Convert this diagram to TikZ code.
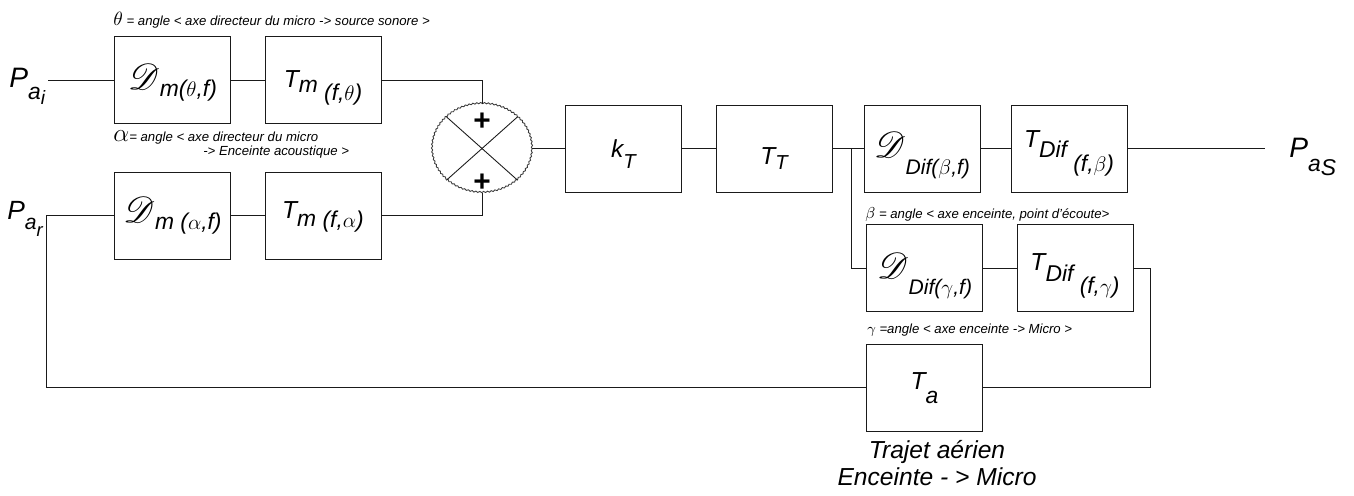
\documentclass[tikz,border=0pt]{standalone}
\usepackage{amsmath}
\usepackage{mathrsfs}
\usepackage{fontspec}
\setmainfont{Liberation Sans}
\usetikzlibrary{positioning,shapes.geometric,decorations.pathmorphing}
\definecolor{DiagInk}{HTML}{1A1A1A}
\newcommand{\dn}[2][4pt]{\raisebox{-#1}{\fontsize{13}{13}\selectfont #2}}
\newcommand{\Dscr}{{\fontsize{20}{20}\selectfont$\mathscr{D}$}}

\begin{document}
\begin{tikzpicture}[x=0.02cm, y=-0.02cm,
  blockbox/.style={draw=DiagInk, line width=0.55pt, minimum width=2.32cm,
               minimum height=1.74cm, inner sep=0pt, align=center,
               font=\itshape\fontsize{14}{16}\selectfont},
  txtdrop/.style={text height=#1, text depth=0pt},
  sumnode/.style={ellipse, draw=DiagInk!85, line width=0.5pt,
               minimum width=2cm, minimum height=1.78cm, inner sep=0pt,
               decorate, decoration={snake, amplitude=0.35pt, segment length=2.2pt}},
  wire/.style={draw=DiagInk, line width=0.55pt},
  sig/.style={font=\itshape\fontsize{16}{16}\selectfont, inner sep=0pt, anchor=base west},
  anglelabel/.style={font=\itshape\fontsize{7.5}{7.5}\selectfont,
               anchor=base west, inner sep=0pt, align=left}
]
\useasboundingbox (0,0) rectangle (1354,495);

% chaine micro
\node[blockbox, txtdrop=11pt] (dmt) at (172.5,80) {\Dscr\dn[4pt]{m($\theta$,f)}};
\node[blockbox, txtdrop=8pt] (tmt) at (323,80) {T\dn[3pt]{m\dn[4.5pt]{ (f,$\theta$)}}};
\node[blockbox, txtdrop=7.5pt] (dma) at (172.5,215.5) {\Dscr\dn[4pt]{m ($\alpha$,f)}};
\node[blockbox, txtdrop=3pt] (tma) at (323,215.5) {T\dn[5pt]{m\dn[0.5pt]{ (f,$\alpha$)}}};
\node[sumnode] (sum) at (482,148.5) {};
\node[font=\bfseries\fontsize{17}{17}\selectfont, inner sep=0pt] (plustop) at (482,122) {+};
\node[font=\bfseries\fontsize{17}{17}\selectfont, inner sep=0pt] (plusbot) at (482,183) {+};
\node[blockbox, txtdrop=10.8pt] (kt) at (623.5,148.5) {k\dn[6pt]{\fontsize{11.5}{11.5}\selectfont T}};
\node[blockbox, txtdrop=18.7pt] (tt) at (774,148.5) {T\dn[2.5pt]{\fontsize{11.5}{11.5}\selectfont T}};

% chaine enceinte
\node[blockbox, txtdrop=10.8pt] (ddb) at (922,148.5) {\Dscr\dn[9.6pt]{\fontsize{12}{12}\selectfont Dif($\beta$,f)}};
\node[blockbox, text height=0pt, text depth=1.7pt] (tdb) at (1069,148.5) {T\dn[5.7pt]{Dif\dn[8pt]{ (f,$\beta$)}}};
\node[blockbox, txtdrop=11.4pt] (ddg) at (924.5,268) {\Dscr\dn[9.6pt]{\fontsize{12}{12}\selectfont Dif($\gamma$,f)}};
\node[blockbox, txtdrop=2.3pt] (tdg) at (1075,268) {T\dn[6.5pt]{Dif\dn[7pt]{ (f,$\gamma$)}}};
\node[blockbox, txtdrop=2.8pt] (ta) at (924.5,387.5) {T\dn[7.5pt]{a}};

% signaux
\node[sig] (pai) at (9,87) {P\dn[7.2pt]{a\dn[3pt]{\fontsize{11}{11}\selectfont i}}};
\node[sig, font=\itshape\fontsize{15}{15}\selectfont] (par) at (7,219) {P\dn[6.2pt]{\fontsize{12}{12}\selectfont a\dn[3.5pt]{\fontsize{10.5}{10.5}\selectfont r}}};
\node[sig] (pas) at (1289,157) {P\dn[8.5pt]{a\dn[2pt]{S}}};
\node[sig, anchor=center, font=\itshape\fontsize{14}{15.5}\selectfont, align=center] (trajet) at (937,463) {Trajet aérien\\Enceinte - > Micro};

% angles
\node[anglelabel] (thetalbl) at (113,25) {{\fontsize{11}{11}\selectfont$\theta$} = angle < axe directeur du micro -> source sonore >};
\node[anglelabel] (alphalbl) at (113,155) {{\fontsize{14}{7.5}\selectfont$\alpha$}= angle < axe directeur du micro\\\hspace*{1.8cm}-> Enceinte acoustique >};
\node[anglelabel] (betalbl) at (865,218) {{\fontsize{9}{9}\selectfont$\beta$} = angle < axe enceinte, point d'écoute>};
\node[anglelabel] (gammalbl) at (867,333) {{\fontsize{8.5}{8.5}\selectfont$\gamma$} =angle < axe enceinte -> Micro >};

\coordinate (in1) at (48,80);
\coordinate (fb) at (46,215.5);
\coordinate (split) at (851,148.5);
\coordinate (out) at (1265,148.5);
\coordinate (ret) at (1150,268);

\draw[wire] (in1) -- (dmt);
\draw[wire] (dmt) -- (tmt);
\draw[wire] (tmt.east) -| (sum.north);
\draw[wire] (dma) -- (tma);
\draw[wire] (tma.east) -| (sum.south);
\draw[wire] (dma.west) -- (fb) |- (ta.west);
\draw[wire, line width=0.5pt] (sum.north west) -- (sum.south east);
\draw[wire, line width=0.5pt] (sum.north east) -- (sum.south west);
\draw[wire] (sum) -- (kt);
\draw[wire] (kt) -- (tt);
\draw[wire] (tt) -- (ddb);
\draw[wire] (split) |- (ddg.west);
\draw[wire] (ddb) -- (tdb);
\draw[wire] (tdb) -- (out);
\draw[wire] (ddg) -- (tdg);
\draw[wire] (tdg.east) -- (ret) |- (ta.east);
\end{tikzpicture}
\end{document}
